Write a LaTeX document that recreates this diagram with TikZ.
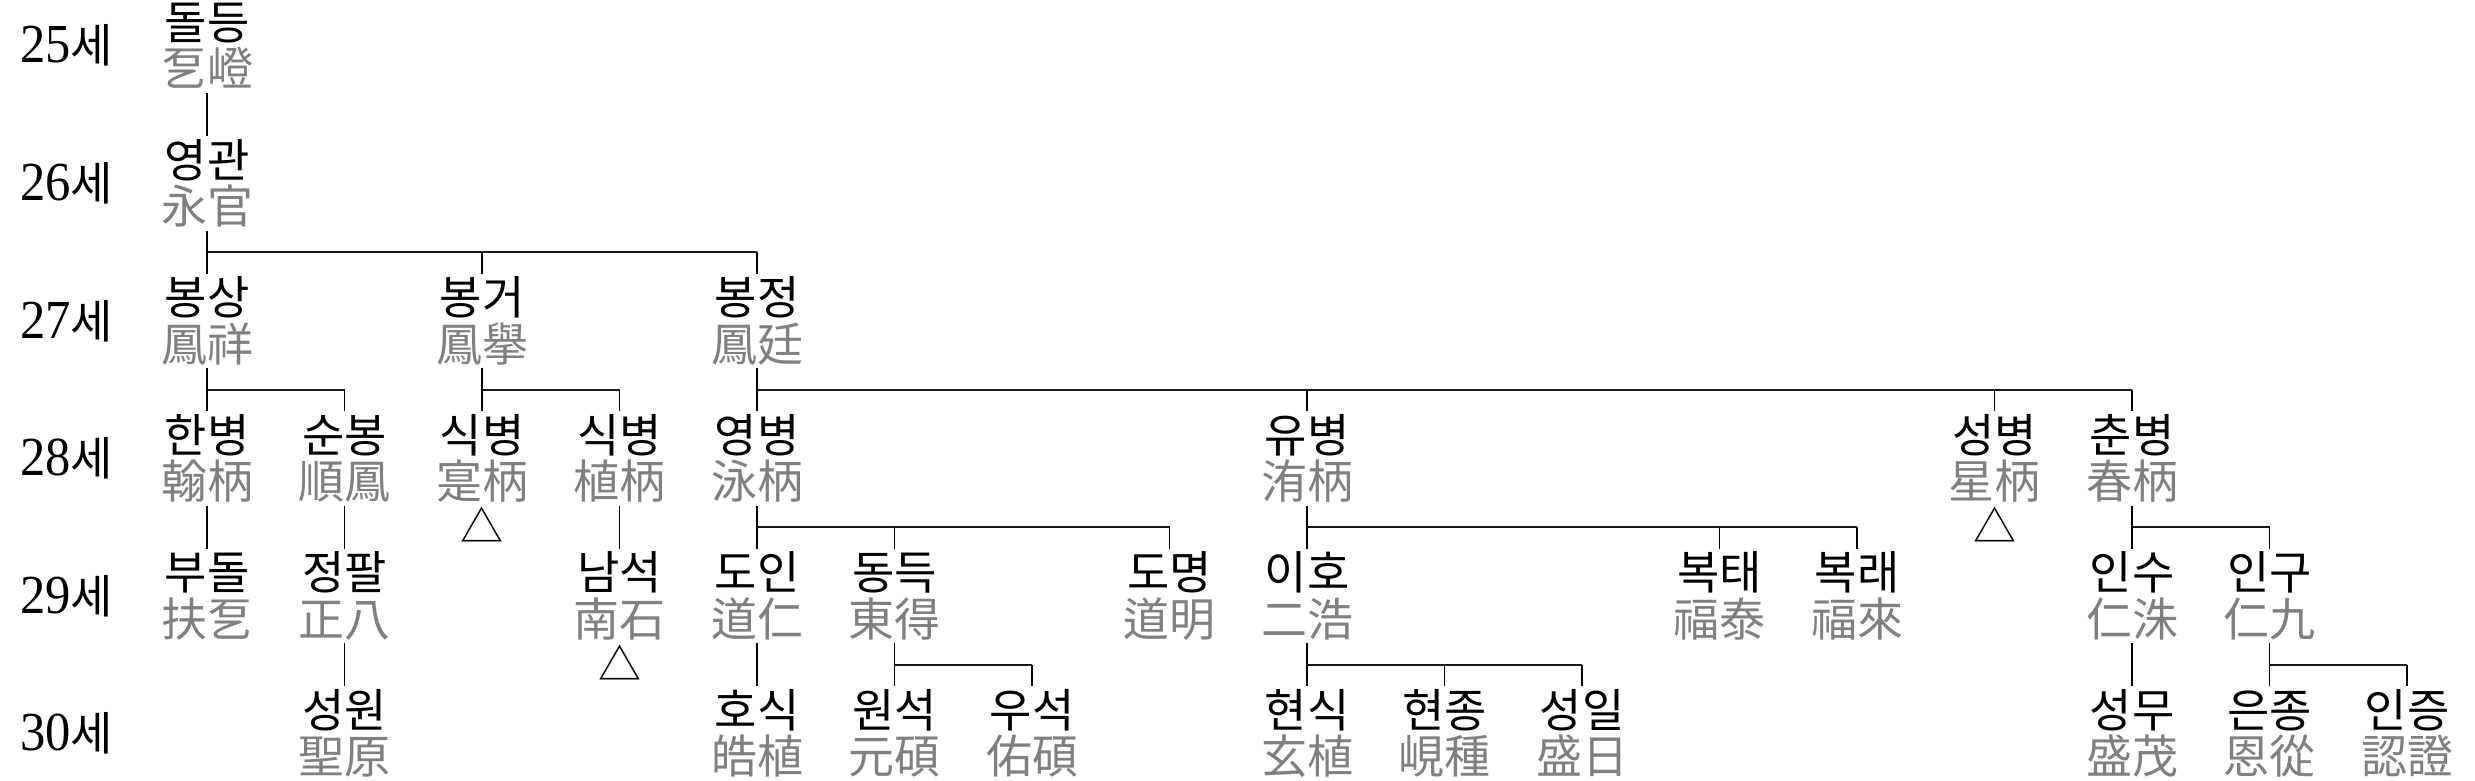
\documentclass[tikz,border=0pt]{standalone}
\usepackage{fontspec}
\newfontfamily\kr{Noto Sans CJK KR}
\newfontfamily\digitfont{Liberation Serif}[FakeStretch=0.92]
\definecolor{hanjagray}{HTML}{808080}
\tikzset{
  knm/.style={font=\kr\fontsize{46}{48}\selectfont, text=black, inner sep=0pt, text height=40.5pt, text depth=5.5pt},
  hnm/.style={font=\kr\fontsize{46}{48}\selectfont, text=hanjagray, inner sep=0pt, text height=43pt, text depth=7pt},
  vline/.style={draw=black, line width=1.1pt},
  hbar/.style={draw=black!90, line width=1.9pt},
  genlabel/.style={anchor=base west, inner sep=0pt},
  trimark/.style={font=\kr\fontsize{43}{43}\selectfont, inner sep=0pt, text height=40pt, text depth=6pt}
}
\newcommand\psn[4]{%
  \node[knm] (n#1-#2) at ({207+137.5*#1},{22+137.5*#2}) {#3};
  \node[hnm] (h#1-#2) at ({207+137.5*#1},{68+137.5*#2}) {#4};}
\newcommand\solo[2]{%
  \pgfmathtruncatemacro\famrow{#2+1}%
  \draw[vline] (h#1-#2.south) -- (n#1-\famrow.north);}
\newcommand\kinbar[4]{%
  \pgfmathtruncatemacro\famrow{#2+1}%
  \draw[vline] (h#1-#2.south) -- ++(0,21.5) coordinate (b#1-#2);
  \draw[hbar] (b#1-#2) -- (b#1-#2 -| n#3-\famrow.north);
  \foreach \c in {#4} {\draw[vline] (b#1-#2 -| n\c-\famrow.north) -- (n\c-\famrow.north);}}
\begin{document}
\begin{tikzpicture}[x=1pt,y=-1pt]
\useasboundingbox (0,0) rectangle (2475,781);
% generation labels
\foreach \r/\t in {0/25,1/26,2/27,3/28,4/29,5/30}
  \node[genlabel] (g\r) at (20,{63+137.5*\r}) {{\digitfont\fontsize{55}{55}\selectfont\t}{\kr\fontsize{46}{48}\selectfont 세}};
% row 0-2
\psn{0}{0}{돌등}{乭嶝}
\psn{0}{1}{영관}{永官}
\psn{0}{2}{봉상}{鳳祥}
\psn{2}{2}{봉거}{鳳擧}
\psn{4}{2}{봉정}{鳳廷}
% row 3
\psn{0}{3}{한병}{翰柄}
\psn{1}{3}{순봉}{順鳳}
\psn{2}{3}{식병}{寔柄}
\psn{3}{3}{식병}{植柄}
\psn{4}{3}{영병}{泳柄}
\psn{8}{3}{유병}{洧柄}
\psn{13}{3}{성병}{星柄}
\psn{14}{3}{춘병}{春柄}
% row 4
\psn{0}{4}{부돌}{扶乭}
\psn{1}{4}{정팔}{正八}
\psn{3}{4}{남석}{南石}
\psn{4}{4}{도인}{道仁}
\psn{5}{4}{동득}{東得}
\psn{7}{4}{도명}{道明}
\psn{8}{4}{이호}{二浩}
\psn{11}{4}{복태}{福泰}
\psn{12}{4}{복래}{福來}
\psn{14}{4}{인수}{仁洙}
\psn{15}{4}{인구}{仁九}
% row 5
\psn{1}{5}{성원}{聖原}
\psn{4}{5}{호식}{皓植}
\psn{5}{5}{원석}{元碩}
\psn{6}{5}{우석}{佑碩}
\psn{8}{5}{현식}{玄植}
\psn{9}{5}{현종}{峴種}
\psn{10}{5}{성일}{盛日}
\psn{14}{5}{성무}{盛茂}
\psn{15}{5}{은종}{恩從}
\psn{16}{5}{인증}{認證}
% triangles
\node[trimark] (t2-3) at ({207+137.5*2},{113+137.5*3}) {△};
\node[trimark] (t3-4) at ({207+137.5*3},{113+137.5*4}) {△};
\node[trimark] (t13-3) at ({207+137.5*13},{113+137.5*3}) {△};
% connectors
\solo{0}{0}
\kinbar{0}{1}{4}{0,2,4}
\kinbar{0}{2}{1}{0,1}
\kinbar{2}{2}{3}{2,3}
\kinbar{4}{2}{14}{4,8,13,14}
\solo{0}{3}
\solo{1}{3}
\solo{3}{3}
\kinbar{4}{3}{7}{4,5,7}
\kinbar{8}{3}{12}{8,11,12}
\kinbar{14}{3}{15}{14,15}
\solo{1}{4}
\solo{4}{4}
\kinbar{5}{4}{6}{5,6}
\kinbar{8}{4}{10}{8,9,10}
\solo{14}{4}
\kinbar{15}{4}{16}{15,16}
\end{tikzpicture}
\end{document}
